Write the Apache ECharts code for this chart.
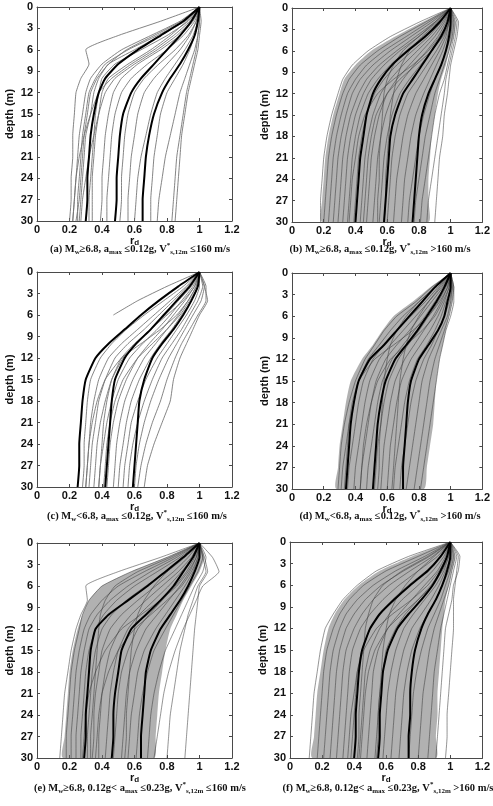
<!DOCTYPE html>
<html>
<head>
<meta charset="utf-8">
<script src="https://cdn.jsdelivr.net/npm/echarts@6/dist/echarts.min.js"></script>
<style>
  html, body { margin: 0; padding: 0; background: #fff; }
  #chart { width: 493px; height: 806px; }
</style>
</head>
<body>
<div id="chart"></div>
<script>
// depth (m) at which every profile is sampled
const depths = [0, 2, 4, 6, 8, 10, 12, 15, 18, 21, 24, 27, 30];
const xTickLabels = ['0', '0.2', '0.4', '0.6', '0.8', '1', '1.2'];

// (a) Mw>=6.8, amax<=0.12g, Vs<=160
const aBlack = [
  [1, 0.90, 0.76, 0.62, 0.50, 0.42, 0.38, 0.35, 0.33, 0.32, 0.31, 0.31, 0.30],
  [1, 0.95, 0.88, 0.80, 0.72, 0.64, 0.58, 0.53, 0.51, 0.50, 0.49, 0.49, 0.48],
  [1, 0.99, 0.97, 0.93, 0.88, 0.82, 0.77, 0.72, 0.69, 0.67, 0.66, 0.65, 0.65]
];
const aGrey = [
  [1, 0.76, 0.50, 0.30, 0.32, 0.27, 0.24, 0.23, 0.22, 0.22, 0.21, 0.21, 0.20],
  [1, 0.88, 0.70, 0.52, 0.40, 0.33, 0.30, 0.28, 0.26, 0.25, 0.24, 0.23, 0.22],
  [1, 0.90, 0.74, 0.56, 0.42, 0.36, 0.32, 0.30, 0.28, 0.27, 0.26, 0.25, 0.25],
  [1, 0.91, 0.76, 0.60, 0.44, 0.38, 0.35, 0.33, 0.30, 0.29, 0.28, 0.27, 0.26],
  [1, 0.93, 0.80, 0.64, 0.48, 0.40, 0.38, 0.36, 0.35, 0.34, 0.33, 0.32, 0.32],
  [1, 0.92, 0.82, 0.70, 0.56, 0.44, 0.40, 0.38, 0.36, 0.35, 0.34, 0.34, 0.34],
  [1, 0.89, 0.72, 0.55, 0.44, 0.37, 0.33, 0.31, 0.29, 0.28, 0.27, 0.26, 0.24],
  [1, 0.96, 0.88, 0.76, 0.62, 0.52, 0.47, 0.44, 0.42, 0.41, 0.40, 0.40, 0.39],
  [1, 0.97, 0.90, 0.80, 0.68, 0.58, 0.52, 0.48, 0.46, 0.45, 0.44, 0.43, 0.43],
  [1, 0.98, 0.93, 0.85, 0.75, 0.66, 0.60, 0.56, 0.54, 0.53, 0.52, 0.52, 0.51],
  [1, 0.98, 0.94, 0.88, 0.80, 0.72, 0.66, 0.62, 0.60, 0.58, 0.57, 0.56, 0.56],
  [1, 0.99, 0.97, 0.94, 0.90, 0.85, 0.80, 0.76, 0.74, 0.72, 0.71, 0.70, 0.70],
  [1, 1.00, 0.99, 0.97, 0.94, 0.91, 0.88, 0.85, 0.82, 0.79, 0.77, 0.75, 0.74],
  [1, 1.00, 0.99, 0.98, 0.96, 0.94, 0.92, 0.90, 0.88, 0.86, 0.85, 0.84, 0.83],
  [1, 1.01, 1.00, 0.99, 0.97, 0.95, 0.93, 0.91, 0.89, 0.88, 0.87, 0.86, 0.85],
  [1, 0.99, 0.96, 0.91, 0.85, 0.79, 0.74, 0.70, 0.67, 0.64, 0.62, 0.61, 0.60],
  [1, 0.95, 0.86, 0.74, 0.60, 0.48, 0.42, 0.38, 0.35, 0.32, 0.30, 0.28, 0.27],
  [1, 0.94, 0.84, 0.72, 0.58, 0.46, 0.38, 0.33, 0.29, 0.26, 0.24, 0.23, 0.22]
];

// (b) Mw>=6.8, amax<=0.12g, Vs>160
const bBlack = [
  [1, 0.93, 0.84, 0.73, 0.63, 0.56, 0.51, 0.47, 0.45, 0.43, 0.42, 0.41, 0.40],
  [1, 0.98, 0.94, 0.88, 0.82, 0.76, 0.70, 0.65, 0.62, 0.61, 0.60, 0.59, 0.58],
  [1, 1.00, 0.99, 0.97, 0.94, 0.90, 0.86, 0.82, 0.80, 0.79, 0.78, 0.77, 0.76]
];
const bBand = [
  [1, 0.82, 0.65, 0.50, 0.40, 0.33, 0.30, 0.26, 0.23, 0.21, 0.20, 0.19, 0.19],
  [1, 1.03, 1.02, 0.99, 0.97, 0.94, 0.92, 0.90, 0.88, 0.87, 0.86, 0.86, 0.86]
];
const bGrey = [
  [1, 0.80, 0.62, 0.48, 0.38, 0.32, 0.29, 0.25, 0.22, 0.20, 0.19, 0.18, 0.18],
  [1, 0.84, 0.68, 0.54, 0.43, 0.36, 0.32, 0.28, 0.25, 0.23, 0.22, 0.21, 0.20],
  [1, 0.86, 0.72, 0.58, 0.47, 0.40, 0.35, 0.31, 0.28, 0.26, 0.25, 0.24, 0.23],
  [1, 0.88, 0.75, 0.62, 0.51, 0.43, 0.38, 0.34, 0.31, 0.29, 0.28, 0.27, 0.26],
  [1, 0.90, 0.78, 0.66, 0.55, 0.47, 0.42, 0.37, 0.34, 0.32, 0.31, 0.30, 0.29],
  [1, 0.91, 0.80, 0.68, 0.58, 0.50, 0.45, 0.40, 0.37, 0.35, 0.34, 0.33, 0.32],
  [1, 0.93, 0.83, 0.72, 0.62, 0.54, 0.48, 0.43, 0.40, 0.38, 0.37, 0.36, 0.35],
  [1, 0.94, 0.86, 0.76, 0.66, 0.58, 0.52, 0.47, 0.44, 0.42, 0.41, 0.40, 0.39],
  [1, 0.95, 0.88, 0.79, 0.70, 0.62, 0.56, 0.51, 0.48, 0.46, 0.45, 0.44, 0.43],
  [1, 0.96, 0.90, 0.82, 0.74, 0.66, 0.60, 0.55, 0.52, 0.50, 0.49, 0.48, 0.47],
  [1, 0.97, 0.92, 0.85, 0.77, 0.70, 0.64, 0.59, 0.56, 0.54, 0.53, 0.52, 0.51],
  [1, 0.98, 0.94, 0.88, 0.81, 0.74, 0.68, 0.63, 0.60, 0.58, 0.57, 0.56, 0.55],
  [1, 0.99, 0.96, 0.91, 0.85, 0.79, 0.73, 0.68, 0.65, 0.63, 0.62, 0.61, 0.60],
  [1, 0.99, 0.97, 0.93, 0.88, 0.83, 0.78, 0.73, 0.70, 0.68, 0.66, 0.65, 0.64],
  [1, 1.00, 0.98, 0.95, 0.91, 0.87, 0.83, 0.78, 0.75, 0.73, 0.71, 0.70, 0.69],
  [1, 1.01, 1.00, 0.97, 0.94, 0.90, 0.87, 0.83, 0.80, 0.78, 0.76, 0.74, 0.73],
  [1, 1.02, 1.01, 0.99, 0.96, 0.93, 0.90, 0.87, 0.84, 0.82, 0.80, 0.78, 0.77],
  [1, 1.03, 1.02, 1.00, 0.98, 0.96, 0.93, 0.90, 0.88, 0.86, 0.84, 0.82, 0.81],
  [1, 1.04, 1.03, 1.01, 0.99, 0.97, 0.96, 0.94, 0.92, 0.90, 0.88, 0.86, 0.85],
  [1, 1.05, 1.04, 1.02, 1.00, 0.99, 0.98, 0.96, 0.95, 0.93, 0.92, 0.91, 0.90],
  [1, 0.98, 0.93, 0.86, 0.76, 0.64, 0.54, 0.46, 0.42, 0.40, 0.38, 0.37, 0.36],
  [1, 0.90, 0.80, 0.70, 0.64, 0.60, 0.58, 0.57, 0.56, 0.55, 0.55, 0.54, 0.54],
  [1, 0.99, 0.95, 0.88, 0.78, 0.68, 0.60, 0.53, 0.50, 0.48, 0.47, 0.46, 0.45],
  [1, 0.92, 0.82, 0.74, 0.69, 0.66, 0.64, 0.62, 0.61, 0.60, 0.59, 0.59, 0.58]
];

// (c) Mw<6.8, amax<=0.12g, Vs<=160
const cBlack = [
  [1, 0.87, 0.75, 0.64, 0.54, 0.44, 0.36, 0.30, 0.28, 0.27, 0.26, 0.26, 0.25],
  [1, 0.94, 0.86, 0.78, 0.70, 0.61, 0.54, 0.48, 0.46, 0.45, 0.44, 0.43, 0.42],
  [1, 0.99, 0.95, 0.90, 0.84, 0.77, 0.71, 0.66, 0.63, 0.62, 0.61, 0.60, 0.59]
];
const cGrey = [
  [1, 0.80, 0.62, 0.47],
  [1, 0.90, 0.78, 0.66, 0.55, 0.46, 0.39, 0.33, 0.31, 0.30, 0.29, 0.29, 0.28],
  [1, 0.92, 0.82, 0.72, 0.62, 0.52, 0.44, 0.38, 0.35, 0.33, 0.32, 0.31, 0.30],
  [1, 0.93, 0.84, 0.75, 0.66, 0.56, 0.48, 0.42, 0.38, 0.36, 0.34, 0.33, 0.32],
  [1, 0.95, 0.87, 0.79, 0.70, 0.61, 0.53, 0.46, 0.42, 0.39, 0.37, 0.36, 0.35],
  [1, 0.96, 0.89, 0.82, 0.74, 0.65, 0.57, 0.50, 0.46, 0.43, 0.41, 0.39, 0.38],
  [1, 0.97, 0.91, 0.84, 0.77, 0.69, 0.62, 0.55, 0.50, 0.47, 0.45, 0.44, 0.43],
  [1, 0.98, 0.93, 0.87, 0.80, 0.73, 0.66, 0.59, 0.54, 0.51, 0.49, 0.48, 0.47],
  [1, 0.99, 0.95, 0.89, 0.83, 0.76, 0.70, 0.63, 0.58, 0.55, 0.53, 0.51, 0.50],
  [1, 1.00, 0.97, 0.92, 0.86, 0.80, 0.74, 0.67, 0.62, 0.58, 0.56, 0.54, 0.53],
  [1, 1.02, 0.99, 0.94, 0.89, 0.83, 0.77, 0.71, 0.66, 0.62, 0.59, 0.57, 0.56],
  [1, 1.03, 1.01, 0.96, 0.91, 0.86, 0.81, 0.75, 0.70, 0.66, 0.63, 0.61, 0.60],
  [1, 1.04, 1.04, 0.99, 0.94, 0.89, 0.85, 0.80, 0.76, 0.71, 0.67, 0.64, 0.62],
  [1, 1.03, 1.05, 1.00, 0.96, 0.92, 0.88, 0.84, 0.82, 0.77, 0.72, 0.68, 0.66],
  [1, 0.97, 0.90, 0.80, 0.70, 0.60, 0.52, 0.46, 0.43, 0.41, 0.40, 0.39, 0.38],
  [1, 0.98, 0.93, 0.86, 0.76, 0.64, 0.52, 0.42, 0.37, 0.34, 0.32, 0.31, 0.30],
  [1, 0.99, 0.94, 0.88, 0.80, 0.71, 0.62, 0.53, 0.48, 0.45, 0.43, 0.42, 0.41]
];

// (d) Mw<6.8, amax<=0.12g, Vs>160
const dBlack = [
  [1, 0.90, 0.82, 0.74, 0.66, 0.58, 0.49, 0.42, 0.39, 0.37, 0.36, 0.35, 0.34],
  [1, 0.96, 0.91, 0.85, 0.79, 0.72, 0.65, 0.59, 0.56, 0.54, 0.53, 0.52, 0.51],
  [1, 1.00, 0.98, 0.96, 0.92, 0.86, 0.80, 0.75, 0.73, 0.72, 0.71, 0.70, 0.70]
];
const dBand = [
  [1, 0.87, 0.76, 0.64, 0.57, 0.51, 0.44, 0.37, 0.34, 0.32, 0.30, 0.29, 0.28],
  [1, 1.02, 1.01, 0.99, 0.97, 0.95, 0.93, 0.91, 0.90, 0.89, 0.87, 0.85, 0.83]
];
const dGrey = [
  [1, 0.88, 0.78, 0.66, 0.58, 0.52, 0.46, 0.40, 0.36, 0.33, 0.31, 0.30, 0.29],
  [1, 0.90, 0.80, 0.70, 0.62, 0.55, 0.48, 0.42, 0.39, 0.36, 0.34, 0.32, 0.31],
  [1, 0.92, 0.84, 0.75, 0.66, 0.58, 0.51, 0.45, 0.42, 0.40, 0.38, 0.36, 0.35],
  [1, 0.93, 0.86, 0.78, 0.70, 0.62, 0.55, 0.49, 0.46, 0.44, 0.42, 0.40, 0.39],
  [1, 0.95, 0.88, 0.81, 0.74, 0.66, 0.59, 0.53, 0.50, 0.48, 0.46, 0.44, 0.43],
  [1, 0.96, 0.90, 0.84, 0.77, 0.70, 0.63, 0.57, 0.54, 0.52, 0.50, 0.48, 0.47],
  [1, 0.97, 0.92, 0.86, 0.80, 0.73, 0.67, 0.61, 0.58, 0.56, 0.54, 0.53, 0.52],
  [1, 0.98, 0.94, 0.89, 0.83, 0.77, 0.71, 0.65, 0.62, 0.60, 0.58, 0.57, 0.56],
  [1, 0.99, 0.96, 0.92, 0.87, 0.81, 0.75, 0.69, 0.66, 0.64, 0.62, 0.61, 0.60],
  [1, 1.00, 0.97, 0.94, 0.90, 0.85, 0.79, 0.74, 0.71, 0.69, 0.67, 0.65, 0.64],
  [1, 1.01, 0.99, 0.96, 0.92, 0.88, 0.83, 0.78, 0.75, 0.73, 0.71, 0.69, 0.68],
  [1, 1.01, 1.00, 0.98, 0.94, 0.90, 0.86, 0.82, 0.80, 0.78, 0.76, 0.74, 0.72],
  [1, 1.02, 1.01, 0.99, 0.96, 0.93, 0.90, 0.87, 0.85, 0.83, 0.81, 0.79, 0.77],
  [1, 1.02, 1.02, 1.00, 0.97, 0.95, 0.93, 0.91, 0.89, 0.87, 0.85, 0.83, 0.81],
  [1, 0.98, 0.93, 0.86, 0.76, 0.64, 0.52, 0.42, 0.38, 0.36, 0.35, 0.34, 0.33],
  [1, 0.90, 0.80, 0.72, 0.66, 0.62, 0.60, 0.58, 0.57, 0.56, 0.55, 0.55, 0.54],
  [1, 0.99, 0.95, 0.90, 0.82, 0.72, 0.62, 0.54, 0.50, 0.47, 0.45, 0.44, 0.43],
  [1, 0.94, 0.86, 0.80, 0.75, 0.72, 0.70, 0.68, 0.67, 0.66, 0.65, 0.64, 0.63]
];

// (e) Mw>=6.8, 0.12g<amax<=0.23g, Vs<=160
const eBlack = [
  [1, 0.90, 0.79, 0.68, 0.56, 0.44, 0.36, 0.33, 0.32, 0.31, 0.30, 0.30, 0.29],
  [1, 0.96, 0.90, 0.84, 0.76, 0.67, 0.58, 0.52, 0.50, 0.48, 0.47, 0.47, 0.46],
  [1, 1.00, 0.97, 0.93, 0.88, 0.82, 0.76, 0.70, 0.67, 0.66, 0.65, 0.64, 0.64]
];
const eBand = [
  [1, 0.80, 0.58, 0.40, 0.32, 0.28, 0.25, 0.22, 0.20, 0.19, 0.18, 0.17, 0.16],
  [1, 1.03, 1.00, 0.95, 0.90, 0.86, 0.82, 0.79, 0.77, 0.75, 0.74, 0.73, 0.72]
];
const eGrey = [
  [1, 0.76, 0.50, 0.30, 0.31, 0.27, 0.24, 0.21, 0.19, 0.17, 0.16, 0.15, 0.14],
  [1, 0.80, 0.58, 0.40, 0.32, 0.28, 0.26, 0.23, 0.21, 0.20, 0.19, 0.18, 0.18],
  [1, 0.84, 0.66, 0.50, 0.40, 0.33, 0.29, 0.26, 0.24, 0.23, 0.22, 0.21, 0.21],
  [1, 0.86, 0.70, 0.56, 0.45, 0.37, 0.32, 0.29, 0.27, 0.26, 0.25, 0.24, 0.24],
  [1, 0.88, 0.74, 0.60, 0.49, 0.41, 0.36, 0.32, 0.30, 0.29, 0.28, 0.27, 0.27],
  [1, 0.91, 0.80, 0.67, 0.55, 0.46, 0.40, 0.36, 0.34, 0.33, 0.32, 0.31, 0.31],
  [1, 0.93, 0.84, 0.73, 0.62, 0.52, 0.45, 0.40, 0.38, 0.36, 0.35, 0.35, 0.34],
  [1, 0.95, 0.87, 0.77, 0.67, 0.58, 0.51, 0.45, 0.42, 0.40, 0.39, 0.38, 0.38],
  [1, 0.96, 0.89, 0.81, 0.72, 0.63, 0.56, 0.50, 0.47, 0.45, 0.44, 0.43, 0.42],
  [1, 0.97, 0.92, 0.85, 0.77, 0.69, 0.62, 0.56, 0.52, 0.50, 0.49, 0.48, 0.47],
  [1, 0.98, 0.94, 0.88, 0.81, 0.74, 0.67, 0.61, 0.57, 0.55, 0.54, 0.53, 0.52],
  [1, 0.99, 0.96, 0.91, 0.85, 0.79, 0.73, 0.66, 0.62, 0.60, 0.58, 0.57, 0.56],
  [1, 1.02, 0.99, 0.94, 0.89, 0.84, 0.79, 0.72, 0.68, 0.65, 0.63, 0.62, 0.61],
  [1, 1.04, 1.02, 0.97, 0.93, 0.89, 0.85, 0.79, 0.75, 0.72, 0.70, 0.69, 0.68],
  [1, 1.08, 1.12, 1.02, 0.98, 0.94, 0.90, 0.85, 0.81, 0.78, 0.76, 0.74, 0.72],
  [1, 1.03, 1.05, 1.00, 0.99, 0.98, 0.97, 0.96, 0.95, 0.94, 0.93, 0.92, 0.91],
  [1, 1.02, 1.04, 0.99, 0.96, 0.93, 0.91, 0.88, 0.86, 0.84, 0.82, 0.81, 0.80],
  [1, 0.98, 0.93, 0.86, 0.76, 0.64, 0.52, 0.42, 0.36, 0.32, 0.30, 0.29, 0.28],
  [1, 0.90, 0.80, 0.72, 0.66, 0.62, 0.60, 0.58, 0.57, 0.56, 0.55, 0.55, 0.54],
  [1, 0.99, 0.95, 0.89, 0.80, 0.70, 0.60, 0.50, 0.44, 0.40, 0.38, 0.37, 0.36],
  [1, 0.82, 0.62, 0.48, 0.42, 0.39, 0.38, 0.37, 0.36, 0.35, 0.34, 0.33, 0.33]
];

// (f) Mw>=6.8, 0.12g<amax<=0.23g, Vs>160
const fBlack = [
  [1, 0.94, 0.86, 0.75, 0.65, 0.56, 0.50, 0.45, 0.43, 0.42, 0.41, 0.41, 0.40],
  [1, 0.98, 0.94, 0.89, 0.82, 0.74, 0.67, 0.61, 0.58, 0.57, 0.56, 0.56, 0.55],
  [1, 1.00, 0.98, 0.95, 0.91, 0.86, 0.82, 0.78, 0.76, 0.75, 0.75, 0.74, 0.74]
];
const fBand = [
  [1, 0.76, 0.56, 0.43, 0.34, 0.28, 0.24, 0.21, 0.19, 0.17, 0.16, 0.15, 0.14],
  [1, 1.03, 1.01, 0.99, 0.97, 0.96, 0.95, 0.94, 0.93, 0.92, 0.92, 0.91, 0.91]
];
const fGrey = [
  [1, 0.74, 0.54, 0.42, 0.33, 0.27, 0.22, 0.19, 0.17, 0.15, 0.14, 0.13, 0.12],
  [1, 0.80, 0.60, 0.46, 0.37, 0.31, 0.27, 0.23, 0.21, 0.20, 0.19, 0.18, 0.17],
  [1, 0.84, 0.66, 0.52, 0.42, 0.35, 0.31, 0.27, 0.25, 0.24, 0.23, 0.22, 0.21],
  [1, 0.87, 0.71, 0.57, 0.47, 0.40, 0.35, 0.31, 0.29, 0.28, 0.27, 0.26, 0.25],
  [1, 0.89, 0.75, 0.62, 0.52, 0.45, 0.40, 0.35, 0.33, 0.32, 0.31, 0.30, 0.29],
  [1, 0.92, 0.80, 0.68, 0.58, 0.50, 0.44, 0.39, 0.37, 0.36, 0.35, 0.34, 0.33],
  [1, 0.94, 0.85, 0.74, 0.64, 0.56, 0.50, 0.45, 0.42, 0.41, 0.40, 0.39, 0.38],
  [1, 0.96, 0.89, 0.80, 0.70, 0.62, 0.56, 0.50, 0.47, 0.46, 0.45, 0.44, 0.43],
  [1, 0.97, 0.92, 0.84, 0.76, 0.68, 0.61, 0.55, 0.52, 0.51, 0.50, 0.49, 0.48],
  [1, 0.98, 0.94, 0.88, 0.80, 0.72, 0.66, 0.60, 0.58, 0.56, 0.55, 0.54, 0.53],
  [1, 0.99, 0.96, 0.91, 0.84, 0.77, 0.71, 0.66, 0.63, 0.61, 0.60, 0.59, 0.58],
  [1, 1.00, 0.97, 0.93, 0.88, 0.82, 0.76, 0.71, 0.68, 0.66, 0.65, 0.64, 0.63],
  [1, 1.01, 0.99, 0.95, 0.91, 0.86, 0.81, 0.76, 0.73, 0.71, 0.70, 0.69, 0.68],
  [1, 1.02, 1.00, 0.97, 0.94, 0.90, 0.86, 0.82, 0.79, 0.77, 0.76, 0.75, 0.74],
  [1, 1.03, 1.01, 0.99, 0.96, 0.93, 0.90, 0.87, 0.85, 0.83, 0.82, 0.81, 0.80],
  [1, 1.04, 1.02, 1.00, 0.98, 0.96, 0.94, 0.92, 0.90, 0.89, 0.88, 0.87, 0.86],
  [1, 1.06, 1.05, 1.02, 1.01, 0.99, 0.97, 0.96, 0.95, 0.94, 0.93, 0.92, 0.91],
  [1, 1.05, 1.04, 1.03, 1.02, 1.02, 1.02, 1.01, 1.00, 0.99, 0.98, 0.98, 0.97],
  [1, 0.98, 0.93, 0.86, 0.76, 0.64, 0.54, 0.46, 0.42, 0.40, 0.38, 0.37, 0.36],
  [1, 0.90, 0.80, 0.72, 0.66, 0.62, 0.60, 0.58, 0.57, 0.56, 0.55, 0.55, 0.54],
  [1, 0.99, 0.95, 0.89, 0.80, 0.70, 0.61, 0.53, 0.49, 0.47, 0.46, 0.45, 0.44],
  [1, 0.86, 0.70, 0.58, 0.52, 0.49, 0.47, 0.46, 0.45, 0.44, 0.43, 0.43, 0.42]
];

const captions = [
  '{t|(a) M}{s|w}{t|≥6.8, a}{s|max}{t| ≤0.12g, V}{p|*}{s|s,12m}{t| ≤160 m/s}',
  '{t|(b) M}{s|w}{t|≥6.8, a}{s|max}{t| ≤0.12g, V}{p|*}{s|s,12m}{t| >160 m/s}',
  '{t|(c) M}{s|w}{t|<6.8, a}{s|max}{t| ≤0.12g, V}{p|*}{s|s,12m}{t| ≤160 m/s}',
  '{t|(d) M}{s|w}{t|<6.8, a}{s|max}{t| ≤0.12g, V}{p|*}{s|s,12m}{t| >160 m/s}',
  '{t|(e) M}{s|w}{t|≥6.8, 0.12g< a}{s|max}{t| ≤0.23g, V}{p|*}{s|s,12m}{t| ≤160 m/s}',
  '{t|(f) M}{s|w}{t|≥6.8, 0.12g< a}{s|max}{t| ≤0.23g, V}{p|*}{s|s,12m}{t| >160 m/s}'
];

// layout of the six panels (pixels)
const panels = [
  { grid: { left: 37, top: 7, width: 195, height: 214 }, black: aBlack, grey: aGrey, band: null, capX: 140, capY: 249 },
  { grid: { left: 292, top: 8, width: 193, height: 214 }, black: bBlack, grey: bGrey, band: bBand, capX: 380, capY: 249 },
  { grid: { left: 37, top: 272, width: 195, height: 215 }, black: cBlack, grey: cGrey, band: null, capX: 137, capY: 516 },
  { grid: { left: 292, top: 273, width: 198, height: 216 }, black: dBlack, grey: dGrey, band: dBand, capX: 390, capY: 516 },
  { grid: { left: 37, top: 543, width: 195, height: 215 }, black: eBlack, grey: eGrey, band: eBand, capX: 140, capY: 788 },
  { grid: { left: 290, top: 542, width: 196, height: 216 }, black: fBlack, grey: fGrey, band: fBand, capX: 388, capY: 788 }
];

const toPoints = vals => vals.map((v, k) => [v, depths[k]]);

const grids = [], xAxes = [], yAxes = [], series = [], graphics = [];
const axisLineStyle = { color: '#4a4a4a', width: 1 };
const labelFont = { color: '#111', fontFamily: 'Liberation Sans, Arial', fontWeight: 'bold', fontSize: 11 };
const capFont = { fontFamily: 'Liberation Serif, Times New Roman', fontWeight: 'bold', fill: '#111', lineHeight: 14 };

panels.forEach((p, i) => {
  grids.push(p.grid);
  // bottom + top x axes
  xAxes.push({
    gridIndex: i, type: 'value', min: 0, max: 1.2, interval: 0.2, position: 'bottom',
    axisLine: { show: true, onZero: false, lineStyle: axisLineStyle },
    axisTick: { inside: true, length: 3, lineStyle: axisLineStyle },
    axisLabel: { ...labelFont, margin: 3, formatter: v => xTickLabels[Math.round(v / 0.2)] },
    splitLine: { show: false },
    name: '{r|r}{d|d}', nameLocation: 'middle', nameGap: 8,
    nameTextStyle: { rich: { r: { ...labelFont, fontSize: 11 }, d: { ...labelFont, fontSize: 8, padding: [3, 0, 0, 0] } } }
  });
  xAxes.push({
    gridIndex: i, type: 'value', min: 0, max: 1.2, interval: 0.2, position: 'top',
    axisLine: { show: true, onZero: false, lineStyle: axisLineStyle },
    axisTick: { inside: true, length: 3, lineStyle: axisLineStyle },
    axisLabel: { show: false }, splitLine: { show: false }
  });
  yAxes.push({
    gridIndex: i, type: 'value', min: 0, max: 30, interval: 3, inverse: true, position: 'left',
    axisLine: { show: true, onZero: false, lineStyle: axisLineStyle },
    axisTick: { inside: true, length: 3, lineStyle: axisLineStyle },
    axisLabel: { ...labelFont, margin: 4 },
    splitLine: { show: false },
    name: 'depth (m)', nameLocation: 'middle', nameGap: 22,
    nameTextStyle: { ...labelFont, fontSize: 11 }
  });
  yAxes.push({
    gridIndex: i, type: 'value', min: 0, max: 30, interval: 3, inverse: true, position: 'right',
    axisLine: { show: true, onZero: false, lineStyle: axisLineStyle },
    axisTick: { inside: true, length: 3, lineStyle: axisLineStyle },
    axisLabel: { show: false }, splitLine: { show: false }
  });

  const xi = i * 2, yi = i * 2;
  const dense = !!p.band;

  if (p.band) {
    const [left, right] = p.band;
    series.push({
      type: 'custom', xAxisIndex: xi, yAxisIndex: yi, silent: true, clip: true, z: 1,
      data: [0],
      renderItem: (params, api) => {
        const pts = toPoints(left).map(pt => api.coord(pt))
          .concat(toPoints(right).reverse().map(pt => api.coord(pt)));
        return { type: 'polygon', shape: { points: pts, smooth: 0.2 }, style: { fill: 'rgba(105,105,105,0.52)' } };
      }
    });
  }

  p.grey.forEach(vals => {
    series.push({
      type: 'line', xAxisIndex: xi, yAxisIndex: yi, data: toPoints(vals),
      showSymbol: false, smooth: 0.15, silent: true, z: 2,
      lineStyle: { color: dense ? 'rgba(60,60,60,0.55)' : 'rgba(110,110,110,0.85)', width: 1 }
    });
  });
  p.black.forEach(vals => {
    series.push({
      type: 'line', xAxisIndex: xi, yAxisIndex: yi, data: toPoints(vals),
      showSymbol: false, smooth: 0.15, silent: true, z: 3,
      lineStyle: { color: '#000', width: 2 }
    });
  });

  graphics.push({
    type: 'text', x: p.capX, y: p.capY,
    style: {
      text: captions[i], align: 'center', verticalAlign: 'middle',
      rich: {
        t: { ...capFont, fontSize: 10.5, verticalAlign: 'middle' },
        s: { ...capFont, fontSize: 7, verticalAlign: 'bottom' },
        p: { ...capFont, fontSize: 7, verticalAlign: 'top' }
      }
    }
  });
});

const chart = echarts.init(document.getElementById('chart'), null, { renderer: 'canvas' });
chart.setOption({
  animation: false,
  backgroundColor: '#fff',
  grid: grids,
  xAxis: xAxes,
  yAxis: yAxes,
  series: series,
  graphic: graphics
});
</script>
</body>
</html>
